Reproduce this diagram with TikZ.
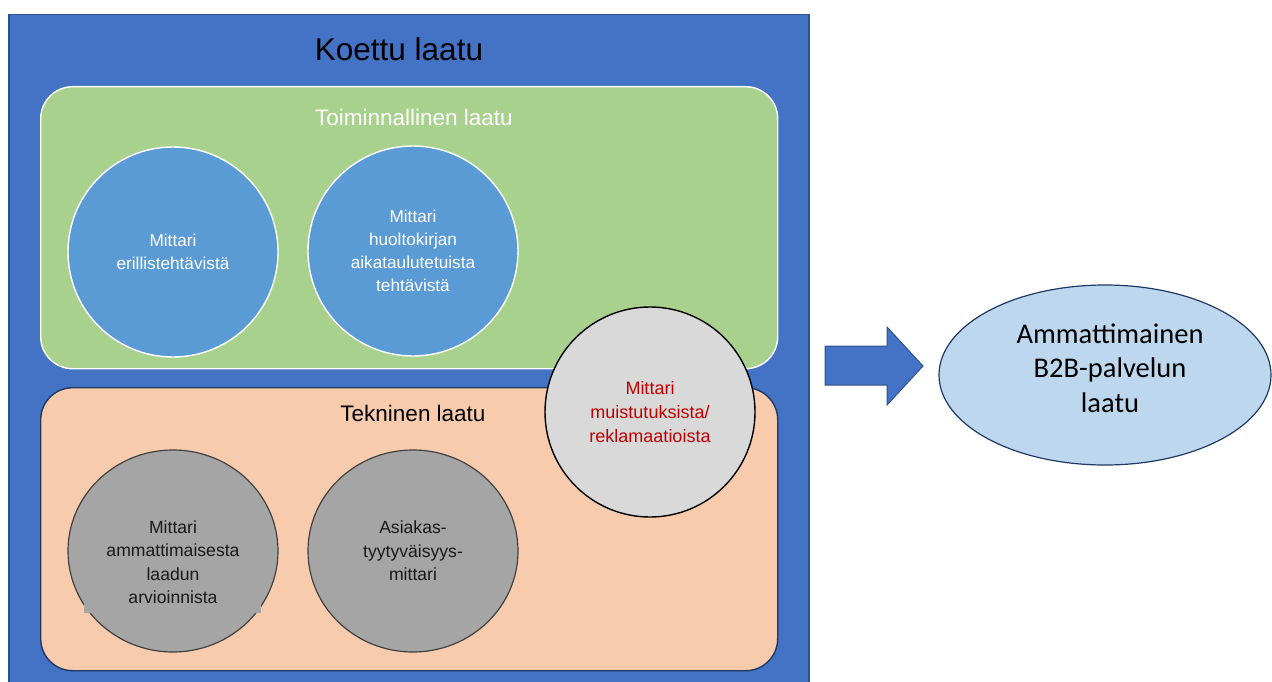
\documentclass[tikz,border=0pt]{standalone}
\usepackage{fontspec}
\setmainfont{Liberation Sans}
\newfontfamily\calfont{Carlito}
\usetikzlibrary{shapes.geometric}
\definecolor{outerblue}{HTML}{4472C4}
\definecolor{outerborder}{HTML}{2F528F}
\definecolor{greenbox}{HTML}{A9D18E}
\definecolor{peachbox}{HTML}{F8CBAD}
\definecolor{midblue}{HTML}{5B9BD5}
\definecolor{greyfill}{HTML}{A5A5A5}
\definecolor{lightgrey}{HTML}{D9D9D9}
\definecolor{lightblue}{HTML}{BDD7EE}
\definecolor{navy}{HTML}{1F3864}
\definecolor{darkred}{HTML}{C00000}
\tikzset{
  panel/.style={rounded corners=32pt, line width=1.4pt},
  bluecirc/.style={circle, fill=midblue, draw=white, line width=1.4pt, minimum size=210pt, inner sep=0pt,
     text=white, align=center, font=\fontsize{17.2}{23}\selectfont},
  greyell/.style={ellipse, fill=greyfill, draw=black!75, line width=1.2pt, minimum width=210pt, minimum height=202pt, inner sep=0pt,
     text=black!90, align=center, font=\fontsize{17.6}{23.5}\selectfont},
  paneltitle/.style={anchor=base, font=\fontsize{22.5}{26}\selectfont}
}
\begin{document}
\begin{tikzpicture}[x=1pt,y=-1pt]
\useasboundingbox (0,0) rectangle (1272,682);
\clip (0,0) rectangle (1272,682);
% outer box
\node[draw=outerborder, fill=outerblue, line width=1.5pt, minimum width=800pt, minimum height=690pt, inner sep=0pt, anchor=north west] (outer) at (8,14) {};
\node[anchor=base, font=\fontsize{31.5}{36}\selectfont] (title) at (399,61) {Koettu laatu};
% panels
\node[panel, draw=white, fill=greenbox, minimum width=737pt, minimum height=282pt, anchor=north west, inner sep=0pt] (green) at (40,86) {};
\node[panel, draw=navy, fill=peachbox, minimum width=737pt, minimum height=283pt, anchor=north west, inner sep=0pt] (peach) at (40,387) {};
\node[paneltitle, text=white] (ttoim) at (414,126) {Toiminnallinen laatu};
\node[paneltitle, text=black] (ttek) at (413,421) {Tekninen laatu};
% blue circles
\node[bluecirc] (c1) at (173,252) {Mittari\\erillistehtävistä};
\node[bluecirc] (c2) at (413,251) {Mittari\\huoltokirjan\\aikataulutetuista\\tehtävistä};
% grey ellipses
\node[greyell] (e1) at (173,551) {};
\fill[greyfill] (84,540) rectangle (261,613);
\node[align=center, text=black!90, font=\fontsize{17.6}{23.5}\selectfont] (e1text) at (173,562) {Mittari\\ammattimaisesta\\laadun\\arvioinnista};
\node[greyell] (e2) at (413,551) {Asiakas-\\tyytyväisyys-\\mittari};
% light grey circle
\node[circle, fill=lightgrey, draw=black, line width=1.4pt, minimum size=210pt, inner sep=0pt, text=darkred, align=center,
  font=\fontsize{18}{24}\selectfont] (c3) at (650,412) {Mittari\\muistutuksista/\\reklamaatioista};
% block arrow
\coordinate (a0) at (825,346);
\filldraw[fill=outerblue, draw=outerborder, line width=1pt] (a0) -- (887,346) -- (887,327) -- (923,366) -- (887,405) -- (887,385) -- (825,385) -- cycle;
% result ellipse
\node[ellipse, fill=lightblue, draw=navy, line width=1.2pt, minimum width=332pt, minimum height=180pt, inner sep=0pt] (res) at (1105,375) {};
\node[align=center, font=\calfont\fontsize{28.5}{34.5}\selectfont] (restext) at (1110,368) {Ammattimainen\\B2B-palvelun\\laatu};
\end{tikzpicture}
\end{document}
